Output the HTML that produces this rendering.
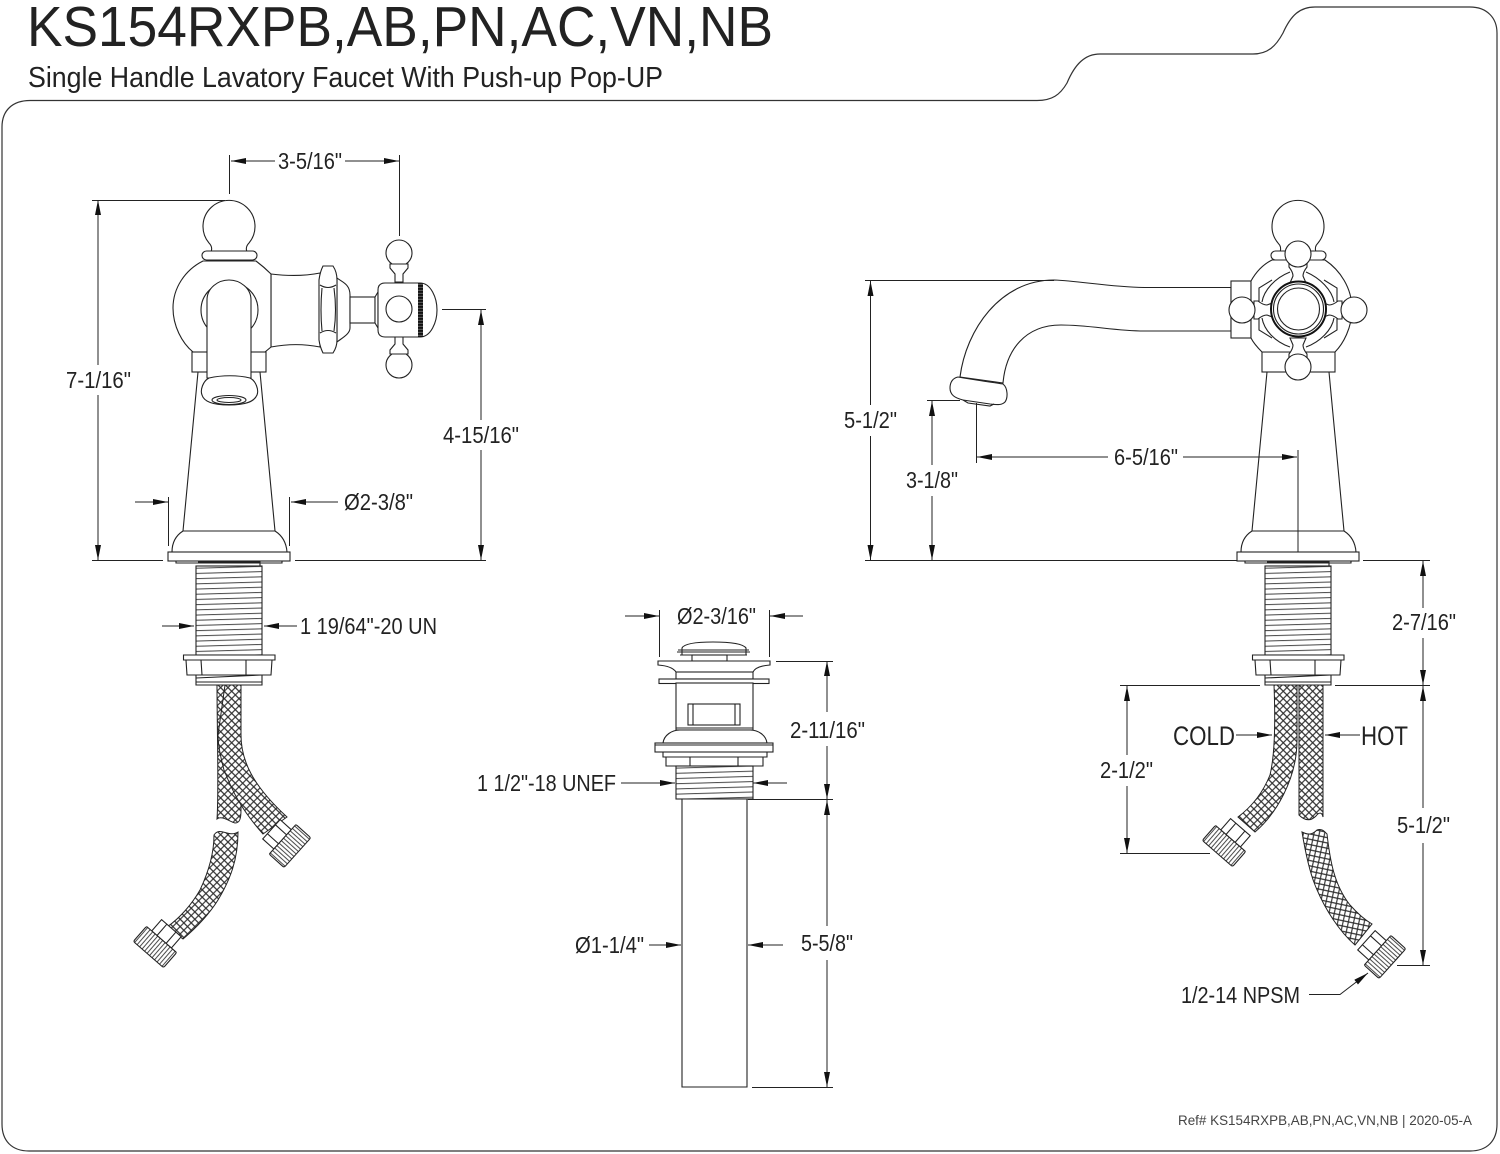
<!DOCTYPE html>
<html><head><meta charset="utf-8"><style>
html,body{margin:0;padding:0;background:#fff}
svg{display:block}
text{font-family:"Liberation Sans",sans-serif;fill:#222;font-size:23px}
.l{fill:none;stroke:#222;stroke-width:1.1}
.w{fill:#fff;stroke:#222;stroke-width:1.1}
.d{fill:none;stroke:#222;stroke-width:1}
.a{fill:none;stroke:#222;stroke-width:1;marker-end:url(#ar)}
</style></head><body>
<svg width="1500" height="1154" viewBox="0 0 1500 1154" xmlns="http://www.w3.org/2000/svg">
<defs>
<marker id="ar" markerUnits="userSpaceOnUse" markerWidth="16" markerHeight="8" refX="15" refY="3" orient="auto"><path d="M0 0L15 3L0 6z" fill="#111"/></marker>
<pattern id="mesh" patternUnits="userSpaceOnUse" width="5.2" height="5.2" patternTransform="rotate(45)"><rect width="5.2" height="5.2" fill="#fff"/><path d="M0 2.600H5.200M2.600 0V5.200" stroke="#2a2a2a" stroke-width="1.1" fill="none"/></pattern>
<pattern id="grid" patternUnits="userSpaceOnUse" width="5.2" height="5.2" patternTransform="rotate(12)"><rect width="5.2" height="5.2" fill="#fff"/><path d="M0 2.600H5.200M2.600 0V5.200" stroke="#2a2a2a" stroke-width="1.1" fill="none"/></pattern>
<pattern id="th" patternUnits="userSpaceOnUse" width="10" height="5.2" patternTransform="rotate(-1.6)"><rect width="10" height="5.2" fill="#fff"/><path d="M0 1.500H10" stroke="#444" stroke-width="1" fill="none"/></pattern>
<pattern id="kn" patternUnits="userSpaceOnUse" width="3.3" height="10"><rect width="3.3" height="10" fill="#fff"/><path d="M1.500 0V10" stroke="#333" stroke-width=".9" fill="none"/></pattern>
<pattern id="bd" patternUnits="userSpaceOnUse" width="1.5" height="3"><rect width="1.5" height="3" fill="#555"/><rect width="1.5" height="1.8" fill="#111"/></pattern>
<g id="fit">
<path class="w" d="M-13-25H13V-10H-13z"/><path class="l" d="M-6-25V-10M6-25V-10"/>
<path d="M-19-10H19Q20-10 20-8V8Q20 10 18 10H-18Q-20 10-20 8V-8Q-20-10-19-10z" fill="url(#kn)" stroke="#222" stroke-width="1.1"/>
</g>
<g id="base">
<path class="w" d="M198 372L183 531H275L260 372"/>
<path class="w" d="M183 531Q172 538 172 552H287Q286 538 275 531z"/>
<rect class="w" x="168" y="552" width="122" height="9"/>
<path class="l" d="M176 561V563H282V561" />
<rect x="196" y="566" width="66" height="89" fill="url(#th)" stroke="#222" stroke-width="1.1"/>
<path class="l" d="M198 562H260V566"/>
<path class="w" d="M183.500 655H275V660H183.500z"/>
<path class="w" d="M186 660H272L271 675H187z"/>
<path class="l" d="M201 660L202 675M246 660V675"/>
<path class="w" d="M196 675H262V685H196z"/>
<path class="l" d="M196 682H262M196 678L262 675" stroke-width="1.6"/>
</g>
</defs>
<rect width="1500" height="1154" fill="#fff"/>
<path class="d" style="stroke:#333;stroke-width:1.2" d="M30 100.500H1037C1052 100.500 1060 95 1067 83C1075 64 1085 54 1100 54H1253C1268 54 1276 46 1283 33C1291 15 1300 7 1315 7H1470C1487 7 1497 18 1497 33V1124C1497 1141 1487 1151 1470 1151H29C12 1151 2 1141 2 1124V127C2 110 13 100.500 30 100.500z"/>
<text x="27" y="46" style="font-size:57px" textLength="746" lengthAdjust="spacingAndGlyphs">KS154RXPB,AB,PN,AC,VN,NB</text>
<text x="28" y="87" style="font-size:29px" textLength="635" lengthAdjust="spacingAndGlyphs">Single Handle Lavatory Faucet With Push-up Pop-UP</text>

<!-- LEFT VIEW -->
<use href="#base"/>
<path d="M217 685C217 730 219 790 217 819C222 815 230 822 235 823C240 823 241 818 241 810V780L225 740V685z" fill="url(#mesh)" stroke="#222"/>
<path d="M241 685V735C241 760 252 785 287 817L263 834C240 808 232 790 224 770C220 755 218 745 218 735L225 685z" fill="url(#mesh)" stroke="#222"/>
<path d="M238 832C238 860 230 880 218 900C208 916 196 928 183 939L167 927C180 918 192 904 200 890C208 873 214 855 214 835C220 826 228 838 238 832z" fill="url(#mesh)" stroke="#222"/>
<use href="#fit" transform="translate(290 846) rotate(-48)"/>
<use href="#fit" transform="translate(155 947) rotate(41)"/>
<!-- body -->
<path class="w" d="M271 274C287 276 305 276 320 273V347C305 344 287 344 271 347z"/>
<path class="w" d="M337 278C342 282 350 284 350 295V328C350 334 342 338 337 342z"/>
<rect class="w" x="350" y="297" width="25" height="26"/>
<path class="w" d="M375 297L378 292V328L375 323z"/>
<path class="w" d="M323 266H333Q337 272 337 280V340Q337 347 333 353H323Q320 347 319 340V280Q320 272 323 266z"/>
<path class="l" d="M320 285Q328 290 336 285M320 333Q328 328 336 333M322 288Q320 310 322 331M334 288Q337 310 334 331"/>
<path class="w" d="M203 261C185 270 173 288 173 308C173 326 182 343 193 352H265L271 347V274C265 268 260 264 256 261z"/>
<ellipse class="w" cx="229.500" cy="310" rx="28.500" ry="28"/>
<rect class="w" x="192" y="352" width="74" height="20"/>
<path class="w" d="M207 378V300C207 288 218 280 229 280C240 280 251 288 251 300V378z"/>
<path class="w" d="M209 378C222 375 238 375 250 378C256 381 259 390 257 395C254 402 245 405 229 405C213 405 204 402 202 395C200 390 203 381 209 378z"/>
<ellipse class="l" cx="229" cy="400" rx="17" ry="4.500"/><ellipse class="l" cx="229" cy="400" rx="12" ry="2.500"/>
<path class="w" d="M211 252Q213 247 209 243A26 26 0 1 1 249 243Q245 247 247 252z"/>
<rect class="w" x="202" y="251" width="55" height="9" rx="4.500"/>
<!-- cross handle -->
<circle class="w" cx="399" cy="253" r="13"/><circle class="w" cx="399" cy="365" r="13"/>
<path class="w" d="M390 264H408V268L403 274V282H395V274L390 268z"/><path class="w" d="M390 354H408V350L403 344V337H395V344L390 350z"/>
<path class="w" d="M385 283H420C431 283 437 298 437 310C437 322 431 337 420 337H385Q378 337 378 330V290Q378 283 385 283z"/>
<rect x="418" y="283" width="5" height="54" fill="url(#bd)"/>
<circle class="l" cx="399" cy="309" r="13"/>

<!-- LEFT DIMS -->
<path class="a" d="M275 161H231"/><path class="a" d="M345 161H399"/>
<path class="d" d="M229.500 155V194M399.500 155V236"/>
<path class="d" d="M92 200.500H225M92 560.500H163M295 560.500H486M442 309.500H486"/>
<path class="a" d="M98 365V200"/><path class="a" d="M98 395V560"/>
<path class="a" d="M481 420V310"/><path class="a" d="M481 450V560"/>
<path class="d" d="M168.500 497V546M289.500 497V546"/>
<path class="a" d="M135 502H168"/><path class="a" d="M338 502H291"/>
<path class="a" d="M162 626H194"/><path class="a" d="M297 626H264"/>
<text x="278" y="169" textLength="64" lengthAdjust="spacingAndGlyphs">3-5/16"</text>
<text x="66" y="388" textLength="65" lengthAdjust="spacingAndGlyphs">7-1/16"</text>
<text x="443" y="443" textLength="76" lengthAdjust="spacingAndGlyphs">4-15/16"</text>
<text x="344" y="510" textLength="69" lengthAdjust="spacingAndGlyphs">Ø2-3/8"</text>
<text x="300" y="634" textLength="137" lengthAdjust="spacingAndGlyphs">1 19/64"-20 UN</text>

<!-- CENTER DRAIN -->
<path class="w" d="M682 648C684 644 695 642 713 642C731 642 743 644 746 648V655H682z"/>
<path class="l" d="M678 650H749M677 652H750M680 655H747"/>
<rect class="w" x="692" y="655" width="35" height="6"/>
<path class="w" d="M658 661H770V665Q756 666 753 672H676Q672 666 658 665z"/>
<rect class="w" x="676" y="672" width="77" height="7"/>
<rect class="w" x="659" y="679" width="110" height="4.500"/>
<rect class="w" x="676" y="683" width="77" height="47"/>
<rect class="w" x="688" y="704" width="52" height="21"/>
<path class="l" d="M693 704V725M735 704V725M676 728H753"/>
<path class="w" d="M663 743C664 735 672 730 680 730H750C758 730 766 735 767 743z"/>
<rect class="w" x="655" y="743" width="118" height="9"/>
<path class="l" d="M663 752V757H767V752M655 745H773"/>
<path class="w" d="M666 757H763V766H666z"/>
<path class="l" d="M690 757V766M738 757V766"/>
<rect x="676" y="766" width="77" height="33" fill="url(#th)" stroke="#222" stroke-width="1.1"/>
<path class="w" d="M682 799H747V1087H682z"/>
<path class="d" d="M659.500 610V657M769.500 610V657M776 661.500H833M748 799.500H833M752 1087.500H833"/>
<path class="a" d="M625 616H659"/><path class="a" d="M803 616H770"/>
<path class="a" d="M827 712V661"/><path class="a" d="M827 746V799"/>
<path class="a" d="M827 926V800"/><path class="a" d="M827 960V1087"/>
<path class="a" d="M621 783H675"/><path class="a" d="M787 783H753"/>
<path class="a" d="M649 945H681"/><path class="a" d="M783 945H748"/>
<text x="677" y="624" textLength="79" lengthAdjust="spacingAndGlyphs">Ø2-3/16"</text>
<text x="790" y="738" textLength="75" lengthAdjust="spacingAndGlyphs">2-11/16"</text>
<text x="477" y="791" textLength="139" lengthAdjust="spacingAndGlyphs">1 1/2"-18 UNEF</text>
<text x="801" y="951" textLength="52" lengthAdjust="spacingAndGlyphs">5-5/8"</text>
<text x="575" y="953" textLength="69" lengthAdjust="spacingAndGlyphs">Ø1-1/4"</text>

<!-- RIGHT VIEW -->
<use href="#base" transform="translate(1069 0)"/>
<path d="M1274 685C1275 710 1276 750 1270 775C1262 795 1250 808 1238 817L1255 832C1275 815 1297 780 1297 740V685z" fill="url(#mesh)" stroke="#222"/>
<path d="M1299 685V815C1304 820 1310 822 1316 816C1319 812 1322 812 1323 817V685z" fill="url(#mesh)" stroke="#222"/>
<path d="M1302 832C1308 835 1312 835 1317 830C1322 828 1325 832 1327 834C1330 860 1334 885 1350 905C1358 914 1365 920 1372 924L1355 945C1340 932 1325 910 1315 885C1309 870 1305 850 1302 832z" fill="url(#grid)" stroke="#222"/>
<use href="#fit" transform="translate(1224 846) rotate(41)"/>
<use href="#fit" transform="translate(1385 957) rotate(-48)"/>
<!-- spout -->
<path class="w" d="M960 377C966 330 1000 280 1054 280C1080 281 1110 287 1144 287.500H1231V331H1144C1115 331 1090 325 1061 325C1025 325 1006 350 1003 383z"/>
<path class="w" d="M958 377C975 380 990 382 1003 384C1008 388 1008 398 1005 402C1002 405 998 405 990 404L963 400C955 398 950 395 950 388C950 382 953 378 958 377z"/>
<path class="l" d="M963 400L968 403L990 406L994 404"/>
<rect class="w" x="1231" y="281" width="20" height="57"/>
<rect class="w" x="1262" y="352" width="73" height="20"/>
<path class="w" d="M1272 260C1262 265 1256 272 1251 281V338C1254 344 1258 348 1262 352H1335C1343 344 1352 328 1352 309C1352 288 1340 270 1325 260z"/>
<path class="w" d="M1280 252Q1282 247 1278 243A26 26 0 1 1 1318 243Q1314 247 1316 252z"/>
<rect class="w" x="1271" y="251" width="55" height="9" rx="4.500"/>
<path class="l" d="M1272 280L1259 288V330L1272 338M1324 280L1337 288V330L1324 338"/>
<path class="l" d="M1290 272C1275 278 1264 290 1262 302M1306 272C1320 278 1332 290 1334 302M1262 318C1264 330 1275 342 1290 347M1334 318C1332 330 1320 342 1306 347"/>
<path class="w" d="M1254 301V319H1258Q1263 315 1267 315L1275 318V302L1267 305Q1263 305 1258 301z"/>
<path class="w" d="M1342 301V319H1338Q1333 315 1329 315L1321 318V302L1329 305Q1333 305 1338 301z"/>
<circle cx="1242" cy="310" r="13" class="w"/><circle cx="1354" cy="310" r="13" class="w"/>
<path class="w" d="M1289 264H1307V267Q1303 272 1303 276L1306 283H1290L1293 276Q1293 272 1289 267z"/>
<path class="w" d="M1289 357H1307V354Q1303 349 1303 345L1306 338H1290L1293 345Q1293 349 1289 354z"/>
<circle cx="1298" cy="254" r="13" class="w"/><circle cx="1298" cy="367" r="13" class="w"/>
<circle cx="1298.500" cy="309" r="27.500" fill="#fff" stroke="#111" stroke-width="2"/>
<circle class="l" cx="1298.500" cy="309" r="25"/>
<circle class="l" cx="1298.500" cy="309" r="21"/>
<!-- right dims -->
<path class="d" d="M865 280.500H1054M865 560.500H1237M1363 560.500H1430M927 400.500H960M976.500 403V463M1298 450V552M1335 685.500H1430M1120 685.500H1260M1120 853.500H1210M1397 965.500H1430"/>
<path class="a" d="M870.500 405V281"/><path class="a" d="M870.500 436V560"/>
<path class="a" d="M932 465V401"/><path class="a" d="M932 496V560"/>
<path class="a" d="M1108 457H977"/><path class="a" d="M1183 457H1297"/>
<path class="a" d="M1423 608V561"/><path class="a" d="M1423 638V685"/>
<path class="a" d="M1423 808V686"/><path class="a" d="M1423 843V965"/>
<path class="a" d="M1127 755V686"/><path class="a" d="M1127 786V853"/>
<path class="a" d="M1236 735H1272"/><path class="a" d="M1360 735H1325"/>
<path class="a" d="M1309 994.500H1340L1368 973"/>
<text x="844" y="428" textLength="53" lengthAdjust="spacingAndGlyphs">5-1/2"</text>
<text x="906" y="488" textLength="52" lengthAdjust="spacingAndGlyphs">3-1/8"</text>
<text x="1114" y="465" textLength="64" lengthAdjust="spacingAndGlyphs">6-5/16"</text>
<text x="1392" y="630" textLength="64" lengthAdjust="spacingAndGlyphs">2-7/16"</text>
<text x="1100" y="778" textLength="53" lengthAdjust="spacingAndGlyphs">2-1/2"</text>
<text x="1397" y="833" textLength="53" lengthAdjust="spacingAndGlyphs">5-1/2"</text>
<text x="1173" y="745" style="font-size:27px" textLength="62" lengthAdjust="spacingAndGlyphs">COLD</text>
<text x="1361" y="745" style="font-size:27px" textLength="47" lengthAdjust="spacingAndGlyphs">HOT</text>
<text x="1181" y="1003" textLength="119" lengthAdjust="spacingAndGlyphs">1/2-14 NPSM</text>
<text x="1178" y="1125" style="font-size:13.500px;fill:#444" textLength="294" lengthAdjust="spacingAndGlyphs">Ref# KS154RXPB,AB,PN,AC,VN,NB | 2020-05-A</text>
</svg>
</body></html>
